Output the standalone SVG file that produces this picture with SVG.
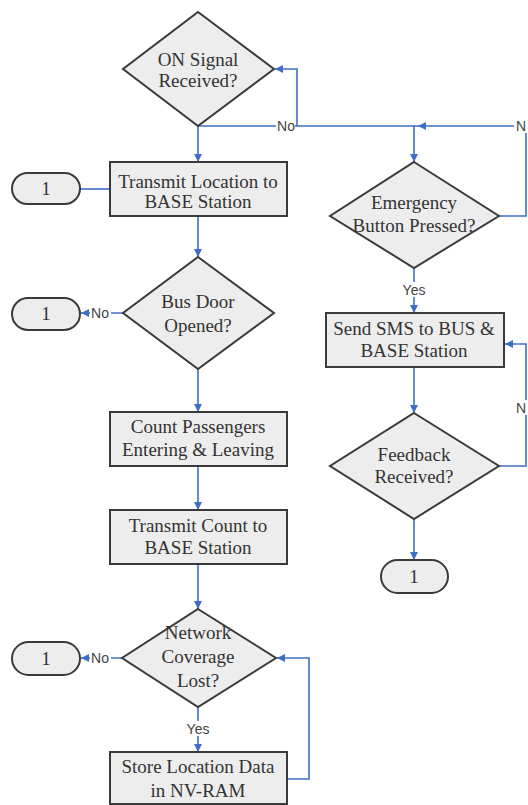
<svg xmlns="http://www.w3.org/2000/svg" width="528" height="805" viewBox="0 0 528 805">
<defs>
<marker id="ah" viewBox="0 0 10 10" refX="10" refY="5" markerWidth="8" markerHeight="8" markerUnits="userSpaceOnUse" orient="auto">
<path d="M0,0 L10,5 L0,10 z" fill="#3d6fc6"/>
</marker>
<style>
.n{fill:#ededed;stroke:#3a3a3a;stroke-width:2}
.t{font-family:'Liberation Serif','DejaVu Serif',serif;font-size:19px;fill:#333;text-anchor:middle}
.c{fill:none;stroke:#3d6fc6;stroke-width:1.6}
.a{marker-end:url(#ah)}
.l{font-family:'Liberation Sans','DejaVu Sans',sans-serif;font-size:14px;fill:#444;text-anchor:middle}
.bg{fill:#fff}
</style>
</defs>
<rect width="528" height="805" fill="#fff"/>
<g id="connectors">
<path class="c a" d="M198,126 V162"/>
<path class="c" d="M198,126 H414"/>
<path class="c a" d="M297,126 V69 H275"/>
<path class="c a" d="M499,216 H526 V126 H418"/>
<path class="c a" d="M418,126 H414 V162"/>
<path class="c" d="M80,189 H110"/>
<path class="c a" d="M198,216 V257"/>
<path class="c a" d="M123,313 H81"/>
<path class="c a" d="M198,369 V412"/>
<path class="c a" d="M198,466 V510"/>
<path class="c a" d="M198,564 V609"/>
<path class="c a" d="M122,658 H81"/>
<path class="c a" d="M198,707 V752"/>
<path class="c a" d="M287,779 H309 V658 H277"/>
<path class="c a" d="M414,268 V313"/>
<path class="c a" d="M414,367 V413"/>
<path class="c a" d="M499,466 H526 V344 H505"/>
<path class="c a" d="M414,519 V560"/>
<rect class="bg" x="276" y="118" width="19" height="15"/>
<text class="l" x="286" y="131">No</text>
<rect class="bg" x="514" y="118" width="14" height="15"/>
<text class="l" x="521" y="131">N</text>
<rect class="bg" x="90" y="306" width="21" height="15"/>
<text class="l" x="100" y="318">No</text>
<rect class="bg" x="400" y="282" width="28" height="15"/>
<text class="l" x="414" y="295">Yes</text>
<rect class="bg" x="514" y="400" width="14" height="15"/>
<text class="l" x="521" y="413">N</text>
<rect class="bg" x="90" y="651" width="21" height="15"/>
<text class="l" x="100" y="663">No</text>
<rect class="bg" x="184" y="721" width="28" height="15"/>
<text class="l" x="198" y="734">Yes</text>
</g>
<g id="on-signal">
<polygon class="n" points="198,12 274,69 198,126 123,69"/>
<text class="t" x="198" y="66">ON Signal</text>
<text class="t" x="198" y="87">Received?</text>
</g>
<g id="transmit-location">
<rect class="n" x="110" y="162" width="177" height="54"/>
<text class="t" x="198" y="188">Transmit Location to</text>
<text class="t" x="198" y="208">BASE Station</text>
</g>
<g id="term-1a">
<rect class="n" x="12" y="173" width="68" height="31" rx="15.5"/>
<text class="t" x="46" y="195">1</text>
</g>
<g id="emergency">
<polygon class="n" points="414,162 499,216 414,268 330,216"/>
<text class="t" x="414" y="209">Emergency</text>
<text class="t" x="414" y="232">Button Pressed?</text>
</g>
<g id="bus-door">
<polygon class="n" points="198,257 274,313 198,369 123,313"/>
<text class="t" x="198" y="308">Bus Door</text>
<text class="t" x="198" y="332">Opened?</text>
</g>
<g id="term-1b">
<rect class="n" x="12" y="298" width="68" height="32" rx="16"/>
<text class="t" x="46" y="320">1</text>
</g>
<g id="send-sms">
<rect class="n" x="326" y="313" width="178" height="54"/>
<text class="t" x="414" y="335">Send SMS to BUS &amp;</text>
<text class="t" x="414" y="357">BASE Station</text>
</g>
<g id="count-passengers">
<rect class="n" x="110" y="412" width="177" height="54"/>
<text class="t" x="198" y="433">Count Passengers</text>
<text class="t" x="198" y="456">Entering &amp; Leaving</text>
</g>
<g id="feedback">
<polygon class="n" points="414,413 499,466 414,519 330,466"/>
<text class="t" x="414" y="461">Feedback</text>
<text class="t" x="414" y="483">Received?</text>
</g>
<g id="transmit-count">
<rect class="n" x="110" y="510" width="177" height="54"/>
<text class="t" x="198" y="532">Transmit Count to</text>
<text class="t" x="198" y="554">BASE Station</text>
</g>
<g id="term-1d">
<rect class="n" x="381" y="560" width="67" height="33" rx="16.5"/>
<text class="t" x="414" y="583">1</text>
</g>
<g id="network">
<polygon class="n" points="198,609 276,658 198,707 122,658"/>
<text class="t" x="198" y="639">Network</text>
<text class="t" x="198" y="663">Coverage</text>
<text class="t" x="198" y="687">Lost?</text>
</g>
<g id="term-1c">
<rect class="n" x="12" y="642" width="68" height="33" rx="16.5"/>
<text class="t" x="46" y="665">1</text>
</g>
<g id="store-location">
<rect class="n" x="110" y="752" width="177" height="52"/>
<text class="t" x="198" y="773">Store Location Data</text>
<text class="t" x="198" y="797">in NV-RAM</text>
</g>
</svg>
